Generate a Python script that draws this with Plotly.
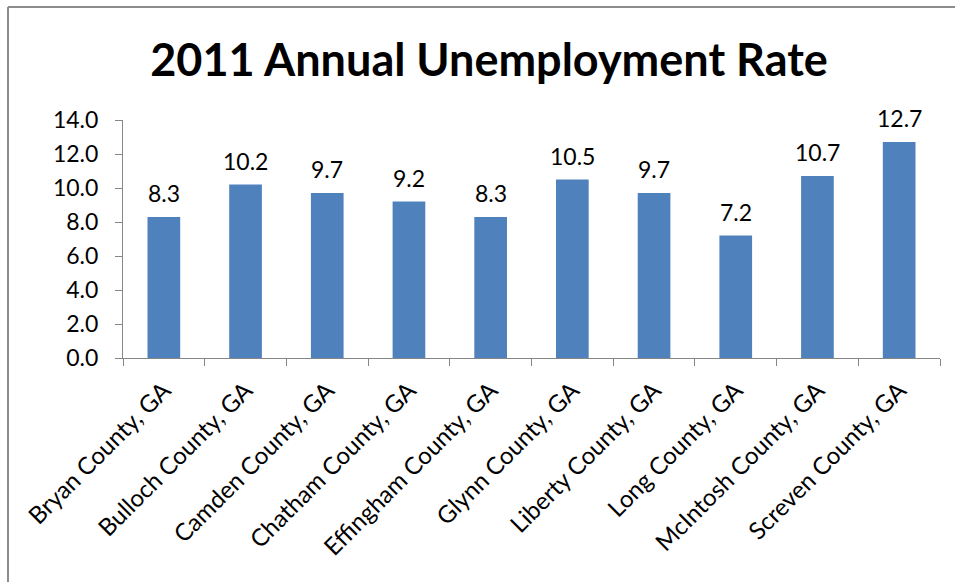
import plotly.graph_objects as go

counties = ["Bryan County, GA", "Bulloch County, GA", "Camden County, GA", "Chatham County, GA",
            "Effingham County, GA", "Glynn County, GA", "Liberty County, GA", "Long County, GA",
            "McIntosh County, GA", "Screven County, GA"]
rates = [8.3, 10.2, 9.7, 9.2, 8.3, 10.5, 9.7, 7.2, 10.7, 12.7]
y_ticks = [0, 2, 4, 6, 8, 10, 12, 14]

W, H = 955, 582
L, R, T, B = 123, 15, 120, 224
pw, ph = W - L - R, H - T - B

FONT = "Lato, 'Open Sans', sans-serif"
AX = "#868686"

fig = go.Figure()
fig.add_trace(go.Bar(x=counties, y=rates, marker=dict(color="#4F81BD", line=dict(width=0)),
                     hoverinfo="x+y"))

annotations = [dict(x=c, y=v, text=f"{v:.1f}", showarrow=False, yanchor="bottom",
                    yshift=8, font=dict(family=FONT, size=23, color="#000"))
               for c, v in zip(counties, rates)]

def px_x(p):
    return (p - L) / pw

def px_y(p):
    return (H - B - p) / ph

shapes = [
    dict(type="line", xref="paper", yref="paper", x0=px_x(8), x1=px_x(8), y0=px_y(7), y1=px_y(600),
         line=dict(color="#8c8c8c", width=2)),
    dict(type="line", xref="paper", yref="paper", x0=px_x(8), x1=px_x(970), y0=px_y(7), y1=px_y(7),
         line=dict(color="#8c8c8c", width=2)),
]

fig.update_layout(
    width=W, height=H,
    margin=dict(l=L, r=R, t=T, b=B, autoexpand=False),
    paper_bgcolor="white", plot_bgcolor="white",
    title=dict(text="<b>2011 Annual Unemployment Rate</b>", x=(489) / W, xanchor="center",
               y=1 - 60 / H, yanchor="middle",
               font=dict(family=FONT, size=45, color="#000")),
    bargap=0.6,
    showlegend=False,
    annotations=annotations,
    shapes=shapes,
    xaxis=dict(type="category", tickangle=-45, tickson="boundaries", ticks="outside", ticklen=7,
               tickcolor=AX, showline=True, linecolor=AX, linewidth=1, showgrid=False,
               ticklabelstandoff=8,
               tickfont=dict(family=FONT, size=24, color="#000")),
    yaxis=dict(range=[0, 14], tickvals=y_ticks, ticktext=[f"{t:.1f}" for t in y_ticks],
               ticks="outside", ticklen=7, tickcolor=AX, showline=True, linecolor=AX, linewidth=1,
               showgrid=False, zeroline=False, ticklabelstandoff=12,
               tickfont=dict(family=FONT, size=23, color="#000")),
)

fig.write_html("out.html")
